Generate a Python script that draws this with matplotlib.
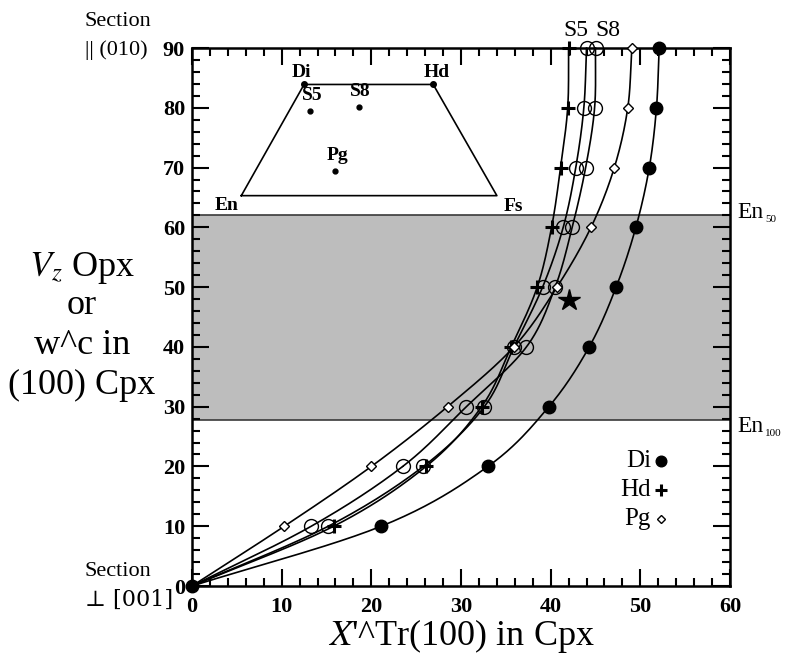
import numpy as np
import matplotlib.pyplot as plt
from matplotlib.ticker import MultipleLocator

plt.rcParams['font.family'] = ['Liberation Serif', 'DejaVu Serif']
plt.rcParams['mathtext.fontset'] = 'stix'

levels = [10, 20, 30, 40, 50, 60, 70, 80, 90]
di_x = [21.1, 33.0, 39.8, 44.3, 47.3, 49.5, 51.0, 51.8, 52.1]
hd_x = [15.8, 26.1, 32.3, 35.6, 38.5, 40.1, 41.1, 41.9, 42.0]
pg_x = [10.3, 20.0, 28.5, 35.9, 40.7, 44.5, 47.1, 48.6, 49.05]
s5_x = [15.2, 25.8, 32.6, 35.9, 39.1, 41.4, 42.8, 43.7, 44.0]
s8_x = [13.3, 23.5, 30.6, 37.3, 40.5, 42.4, 43.9, 44.9, 45.0]

star = (42.0, 47.8)
band = (27.7, 62.0)  # En100 .. En50

# inset quadrilateral (En, Di, Hd, Fs) and sample compositions
quad_names = ['En', 'Di', 'Hd', 'Fs']
quad_x = [5.5, 12.5, 26.9, 34.0]
quad_y = [65.3, 83.9, 83.9, 65.3]
samp_names = ['S5', 'S8', 'Pg']
samp_x = [13.2, 18.6, 16.0]
samp_y = [79.4, 80.1, 69.4]


def smooth(xs, ys, n=25):
    # catmull-rom through the points, just for drawing
    p = np.column_stack([xs, ys]).astype(float)
    p = np.vstack([2 * p[0] - p[1], p, 2 * p[-1] - p[-2]])
    out = []
    t = np.linspace(0, 1, n)[:, None]
    for i in range(1, len(p) - 2):
        p0, p1, p2, p3 = p[i - 1], p[i], p[i + 1], p[i + 2]
        seg = 0.5 * ((2 * p1) + (-p0 + p2) * t + (2 * p0 - 5 * p1 + 4 * p2 - p3) * t ** 2
                     + (-p0 + 3 * p1 - 3 * p2 + p3) * t ** 3)
        out.append(seg)
    out = np.vstack(out)
    return out[:, 0], out[:, 1]


fig = plt.figure(figsize=(7.86, 6.60), dpi=100)
ax = fig.add_axes([192 / 786, 1 - 586 / 660, 538 / 786, 538 / 660])
ax.set_xlim(0, 60)
ax.set_ylim(0, 90)

ax.axhspan(band[0], band[1], facecolor='#bdbdbd', edgecolor='none', zorder=0)
ax.axhline(band[0], color='#3a3a3a', lw=1.2, zorder=1)
ax.axhline(band[1], color='#3a3a3a', lw=1.2, zorder=1)

series = [
    (di_x, dict(marker='o', ms=9, mfc='black', mec='black')),
    (hd_x, dict(marker='+', ms=10, mew=2.2, mec='black')),
    (pg_x, dict(marker='D', ms=5, mfc='white', mec='black', mew=1.0)),
    (s5_x, dict(marker='o', ms=10, mfc='none', mec='black', mew=1.0)),
    (s8_x, dict(marker='o', ms=10, mfc='none', mec='black', mew=1.0)),
]
for xs, style in series:
    cx, cy = smooth([0] + xs, [0] + levels)
    ax.plot(cx, cy, color='black', lw=1.2, zorder=2, clip_on=False)
    ax.plot(xs, levels, ls='none', zorder=3, clip_on=False, **style)

ax.plot([0], [0], 'o', color='black', ms=9, clip_on=False, zorder=4)
ax.plot([star[0]], [star[1]], marker='*', color='black', ms=16, zorder=4)

# inset
ax.plot(quad_x + quad_x[:1], quad_y + quad_y[:1], color='black', lw=1.2)
ax.plot(quad_x[1:3], quad_y[1:3], 'o', color='black', ms=4)
ax.plot(samp_x, samp_y, 'o', color='black', ms=3.5)
quad_off = [(-1.6, -1.6), (-0.3, 2.0), (0.4, 2.0), (1.8, -1.8)]
for name, x, y, (dx, dy) in zip(quad_names, quad_x, quad_y, quad_off):
    ax.text(x + dx, y + dy, name, ha='center', va='center', fontsize=14, fontweight='bold')
for name, x, y in zip(samp_names, samp_x, samp_y):
    ax.text(x + 0.2, y + 2.6, name, ha='center', va='center', fontsize=14, fontweight='bold')

# legend
for i, (lab, st) in enumerate(zip(['Di', 'Hd', 'Pg'], [series[0][1], series[1][1], series[2][1]])):
    yy = 0.233 - i * 0.054
    ax.text(0.853, yy, lab, transform=ax.transAxes, ha='right', va='center', fontsize=18)
    st = dict(st)
    st['ms'] = st['ms'] * 0.85
    ax.plot([0.872], [yy], transform=ax.transAxes, ls='none', **st)

ax.xaxis.set_major_locator(MultipleLocator(10))
ax.xaxis.set_minor_locator(MultipleLocator(2))
ax.yaxis.set_major_locator(MultipleLocator(10))
ax.yaxis.set_minor_locator(MultipleLocator(2))
ax.tick_params(which='both', direction='in', top=True, right=True, width=1.5)
ax.tick_params(which='major', length=12, labelsize=16, pad=5)
ax.tick_params(which='minor', length=6)
ax.tick_params(axis='x', pad=8)
for lab in ax.get_xticklabels() + ax.get_yticklabels():
    lab.set_fontweight('bold')
for sp in ax.spines.values():
    sp.set_linewidth(1.8)

ax.set_xlabel(r"$X$'^Tr(100) in Cpx", fontsize=26, labelpad=0)

# left text blocks
ylab = [r'$V_z$ Opx', 'or', 'w^c in', '(100) Cpx']
ylab_py = [268, 306, 345, 385]
for s, py in zip(ylab, ylab_py):
    fig.text(82 / 786, 1 - py / 660, s, ha='center', va='center', fontsize=26)
fig.text(85 / 786, 1 - 22 / 660, 'Section', ha='left', va='center', fontsize=16)
fig.text(85 / 786, 1 - 50 / 660, '|| (010)', ha='left', va='center', fontsize=16)
fig.text(85 / 786, 1 - 572 / 660, 'Section', ha='left', va='center', fontsize=16)
fig.text(85 / 786, 1 - 600 / 660, '\u22a5 [001]', ha='left', va='center', fontsize=16,
         family=['DejaVu Serif'])

# right labels (En with small subscript)
for sub, py in [('50', 213), ('100', 427)]:
    fig.text(737 / 786, 1 - py / 660, 'En', ha='left', va='center', fontsize=17)
    fig.text(765 / 786, 1 - (py + 6) / 660, sub, ha='left', va='center', fontsize=8)

# S5 S8 over the top
fig.text(576 / 786, 1 - 30 / 660, 'S5', ha='center', va='center', fontsize=17)
fig.text(608 / 786, 1 - 30 / 660, 'S8', ha='center', va='center', fontsize=17)

fig.savefig('out.png', dpi=100)
